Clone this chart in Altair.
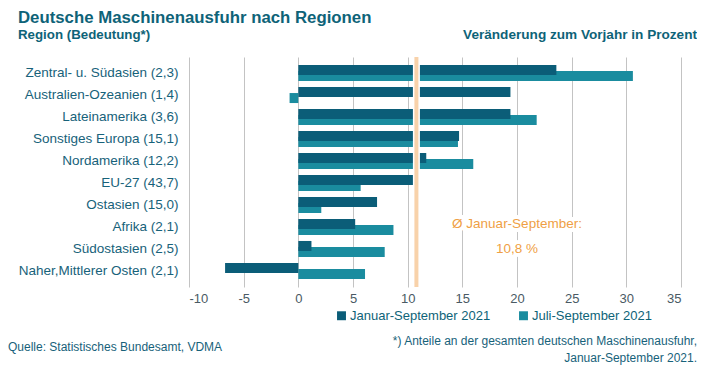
import altair as alt
import pandas as pd

# ---- data ----
regions = [
    "Zentral- u. Südasien (2,3)",
    "Australien-Ozeanien (1,4)",
    "Lateinamerika (3,6)",
    "Sonstiges Europa (15,1)",
    "Nordamerika (12,2)",
    "EU-27 (43,7)",
    "Ostasien (15,0)",
    "Afrika (2,1)",
    "Südostasien (2,5)",
    "Naher,Mittlerer Osten (2,1)",
]
jan_sep = [23.6, 19.4, 19.4, 14.7, 11.7, 10.6, 7.2, 5.2, 1.2, -6.7]
jul_sep = [30.6, -0.8, 21.8, 14.6, 16.0, 5.7, 2.1, 8.7, 7.9, 6.1]
series = ["Januar-September 2021", "Juli-September 2021"]
colors = ["#0b5d78", "#1a8c9f"]
average = [10.8]
x_ticks = [-10, -5, 0, 5, 10, 15, 20, 25, 30, 35]
annot_regions = ["Afrika (2,1)", "Südostasien (2,5)"]
annot_texts = ["Ø Januar-September:", "10,8 %"]
annot_x = [20.0, 20.0]
annot_dy = [-3, 0]

FONT = "Liberation Sans"
TEAL = "#0e6378"
LABEL = "#17627a"
ORANGE = "#ef9f45"

df = pd.DataFrame({
    "region": regions * 2,
    "series": [series[0]] * len(regions) + [series[1]] * len(regions),
    "value": jan_sep + jul_sep,
})

y_enc = alt.Y(
    "region:N",
    sort=regions,
    scale=alt.Scale(domain=regions, paddingInner=0, paddingOuter=0.23),
    axis=alt.Axis(title=None, ticks=False, tickSize=0, domain=False, grid=False,
                  labelFontSize=13.5, labelColor=LABEL, labelPadding=11, labelFont=FONT),
)
x_enc = alt.X(
    "value:Q",
    scale=alt.Scale(domain=[-10, 35], nice=False),
    axis=alt.Axis(values=x_ticks, title=None, grid=True, gridColor="#c3c3c3", gridWidth=1,
                  ticks=False, tickSize=0, domain=False, labelFontSize=13,
                  labelColor="#4a5a64", labelPadding=5, labelFont=FONT,
                  labelExpr="'' + datum.value"),
)
color_enc = alt.Color(
    "series:N",
    scale=alt.Scale(domain=series, range=colors),
    legend=alt.Legend(title=None, orient="none", legendX=146, legendY=252,
                      direction="horizontal", symbolType="square", symbolSize=80,
                      symbolStrokeWidth=0, labelFontSize=13, labelColor=TEAL,
                      labelFont=FONT, columnPadding=26, labelOffset=2),
)

base = alt.Chart(df)
light = base.transform_filter(alt.datum.series == series[1]).mark_bar(
    height=10, yOffset=3).encode(x=x_enc, y=y_enc, color=color_enc)
dark = base.transform_filter(alt.datum.series == series[0]).mark_bar(
    height=10, yOffset=-3).encode(x=x_enc, y=y_enc, color=color_enc)

avg_df = pd.DataFrame({"avg": average})
rule_halo = alt.Chart(avg_df).mark_rule(color="white", strokeWidth=7).encode(x="avg:Q")
rule = alt.Chart(avg_df).mark_rule(color="#f8d2aa", strokeWidth=4).encode(x="avg:Q")

annot_df = pd.DataFrame({"region": annot_regions, "t": annot_texts, "x": annot_x, "dy": annot_dy})
annot_layers = []
for i in range(len(annot_texts)):
    sub = annot_df.iloc[[i]]
    annot_layers.append(
        alt.Chart(sub).mark_text(font=FONT, fontSize=13.5, color="white", stroke="white",
                                 strokeWidth=8, dy=annot_dy[i]).encode(
            x="x:Q", y=alt.Y("region:N", sort=regions), text="t:N"))
    annot_layers.append(
        alt.Chart(sub).mark_text(font=FONT, fontSize=13.5, color=ORANGE, dy=annot_dy[i]).encode(
            x="x:Q", y=alt.Y("region:N", sort=regions), text="t:N"))


def label(txt, x, y, size, bold=False, align="left", color=TEAL, baseline="middle"):
    return alt.Chart(pd.DataFrame({"t": [txt]})).mark_text(
        font=FONT, fontSize=size, fontWeight="bold" if bold else "normal",
        align=align, baseline=baseline, color=color).encode(
        text="t:N", x=alt.value(x), y=alt.value(y))


texts = [
    label("Deutsche Maschinenausfuhr nach Regionen", -171, -34, 16.8, bold=True,
          baseline="alphabetic"),
    label("Region (Bedeutung*)", -171, -22, 13.3, bold=True),
    label("Veränderung zum Vorjahr in Prozent", 508, -22, 13.6, bold=True, align="right"),
    label("Quelle: Statistisches Bundesamt, VDMA", -181, 290, 12, color=LABEL),
    label("*) Anteile an der gesamten deutschen Maschinenausfuhr,", 508, 284, 12, align="right", color=LABEL),
    label("Januar-September 2021.", 508, 301, 12, align="right", color=LABEL),
]

chart = alt.layer(light, dark, rule_halo, rule, *annot_layers, *texts).properties(
    width=492, height=230,
    padding={"left": 181, "top": 49, "right": 16, "bottom": 86},
    autosize="none",
).configure(font=FONT).configure_view(stroke=None)

chart.save("out.html", embed_options={"renderer": "svg", "actions": False})
